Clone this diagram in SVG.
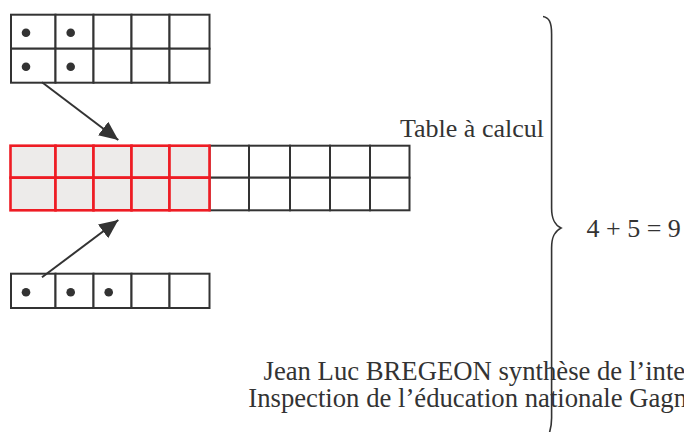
<svg xmlns="http://www.w3.org/2000/svg" width="684" height="432" viewBox="0 0 684 432">
<defs>
<style>
.g{fill:#fff;stroke:#333;stroke-width:2}
.r{fill:#edebea;stroke:#ee1c24;stroke-width:2.6}
.d{fill:#333}
.t{font-family:"Liberation Serif",serif;font-size:26px;fill:#333}
.b{font-size:26.7px}
.c{stroke:#333;stroke-width:2;fill:none}
</style>
<marker id="ah" markerUnits="userSpaceOnUse" markerWidth="20" markerHeight="18" refX="19" refY="8.5" orient="auto"><path d="M0,0 L19,8.5 L0,17 z" fill="#333"/></marker>
</defs>
<rect width="684" height="432" fill="#fff"/>
<g id="top-grid">
<rect class="g" x="11" y="14.7" width="44.5" height="34"/><rect class="g" x="55.5" y="14.7" width="38" height="34"/><rect class="g" x="93.5" y="14.7" width="38" height="34"/><rect class="g" x="131.5" y="14.7" width="38" height="34"/><rect class="g" x="169.5" y="14.7" width="40" height="34"/>
<rect class="g" x="11" y="48.7" width="44.5" height="34"/><rect class="g" x="55.5" y="48.7" width="38" height="34"/><rect class="g" x="93.5" y="48.7" width="38" height="34"/><rect class="g" x="131.5" y="48.7" width="38" height="34"/><rect class="g" x="169.5" y="48.7" width="40" height="34"/>
<circle class="d" cx="26" cy="32.7" r="4.3"/><circle class="d" cx="70.7" cy="32.7" r="4.3"/><circle class="d" cx="26" cy="66.7" r="4.3"/><circle class="d" cx="70.7" cy="66.7" r="4.3"/>
</g>
<g id="middle-grid">
<rect class="g" x="209.5" y="145.7" width="39.5" height="32"/><rect class="g" x="249" y="145.7" width="41" height="32"/><rect class="g" x="290" y="145.7" width="40" height="32"/><rect class="g" x="330" y="145.7" width="40" height="32"/><rect class="g" x="370" y="145.7" width="39.5" height="32"/>
<rect class="g" x="209.5" y="177.7" width="39.5" height="32.6"/><rect class="g" x="249" y="177.7" width="41" height="32.6"/><rect class="g" x="290" y="177.7" width="40" height="32.6"/><rect class="g" x="330" y="177.7" width="40" height="32.6"/><rect class="g" x="370" y="177.7" width="39.5" height="32.6"/>
<rect class="r" x="10.5" y="145.7" width="45" height="32"/><rect class="r" x="55.5" y="145.7" width="38" height="32"/><rect class="r" x="93.5" y="145.7" width="38" height="32"/><rect class="r" x="131.5" y="145.7" width="38" height="32"/><rect class="r" x="169.5" y="145.7" width="40" height="32"/>
<rect class="r" x="10.5" y="177.7" width="45" height="32.6"/><rect class="r" x="55.5" y="177.7" width="38" height="32.6"/><rect class="r" x="93.5" y="177.7" width="38" height="32.6"/><rect class="r" x="131.5" y="177.7" width="38" height="32.6"/><rect class="r" x="169.5" y="177.7" width="40" height="32.6"/>
</g>
<g id="bottom-grid">
<rect class="g" x="11" y="273.7" width="44.5" height="34.3"/><rect class="g" x="55.5" y="273.7" width="38" height="34.3"/><rect class="g" x="93.5" y="273.7" width="38" height="34.3"/><rect class="g" x="131.5" y="273.7" width="38" height="34.3"/><rect class="g" x="169.5" y="273.7" width="40" height="34.3"/>
<circle class="d" cx="26" cy="292.3" r="4.3"/><circle class="d" cx="70.7" cy="292.3" r="4.3"/><circle class="d" cx="108.7" cy="292.3" r="4.3"/>
</g>
<g id="connectors">
<line class="c" x1="42" y1="82.3" x2="118.3" y2="140" marker-end="url(#ah)"/>
<line class="c" x1="42" y1="277.3" x2="118.3" y2="220" marker-end="url(#ah)"/>
<path d="M543,16.5 C549,17.5 551.6,22 551.6,34 L551.6,208 C551.6,220 555,225 561,228 C555,231 551.6,236 551.6,248 L551.6,418 C551.6,428 549,436 545,442" fill="none" stroke="#333" stroke-width="1.6"/>
</g>
<g id="labels">
<text class="t" x="400" y="137.3">Table à calcul</text>
<text class="t" x="586.5" y="236.7">4 + 5 = 9</text>
<text class="t b" x="263.5" y="380">Jean Luc BREGEON synthèse de l’inte</text>
<text class="t b" x="248.3" y="407">Inspection de l’éducation nationale Gagn</text>
</g>
</svg>
